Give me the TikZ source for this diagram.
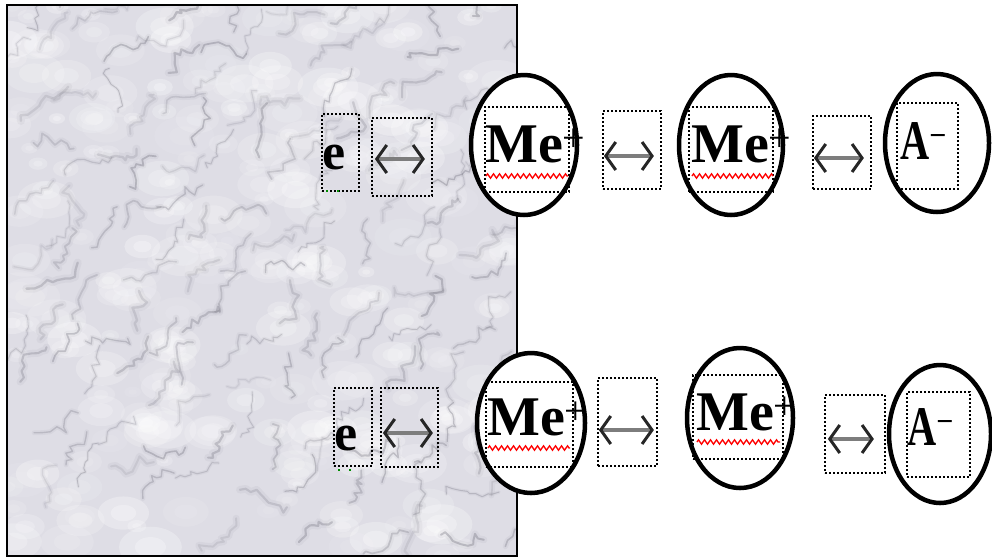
\documentclass[tikz,border=0pt]{standalone}
\usepackage{fontspec}
\usepackage{graphicx}
\setmainfont{Liberation Serif}
\usetikzlibrary{shapes.geometric,arrows.meta,decorations.pathmorphing}
\definecolor{marble}{RGB}{222,221,229}
\definecolor{vein}{RGB}{100,99,112}
\definecolor{shaft}{RGB}{125,125,125}
\newcommand{\plussup}{\raisebox{11pt}{\mdseries\fontsize{40}{40}\selectfont +}}
\newcommand{\minussup}{\raisebox{14pt}{\fontsize{30}{30}\selectfont −}}
\tikzset{
  dotbox/.style={draw=black, line width=2.2pt, dash pattern=on 2pt off 2pt, inner sep=0pt},
  ion/.style={ellipse, draw=black, line width=4.5pt, fill=white, inner sep=0pt},
  big/.style={font=\bfseries\fontsize{56}{56}\selectfont, inner sep=0pt, anchor=base west},
  small/.style={font=\bfseries\fontsize{52}{52}\selectfont, inner sep=0pt, anchor=base west},
  swap/.style={draw=shaft, line width=4pt,
    {Straight Barb[length=10pt,width=28pt,line width=3pt,color=black!85]}-{Straight Barb[length=10pt,width=28pt,line width=3pt,color=black!85]}},
  spell/.style={draw=red, line width=1.3pt, decorate, decoration={zigzag, segment length=6pt, amplitude=2.2pt}},
  grammar/.style={draw=green!55!black, line width=2pt, dash pattern=on 2pt off 9pt}
}
\begin{document}
\begin{tikzpicture}[x=1pt, y=-1pt]
\useasboundingbox (0,0) rectangle (992,558);
% marble slab
\begin{scope}
  \clip (7,5) rectangle (517,556);
  \fill[marble] (7,5) rectangle (517,556);
  \pgfmathsetseed{11}
  \foreach \i in {1,...,260}{
    \pgfmathsetmacro{\px}{7+510*rnd}
    \pgfmathsetmacro{\py}{5+551*rnd}
    \pgfmathsetmacro{\rr}{8+24*rnd}
    \pgfmathsetmacro{\op}{0.08+0.2*rnd}
    \fill[white, opacity=\op] (\px,\py) ellipse [x radius=\rr pt, y radius=0.65*\rr pt];
    \fill[white, opacity=\op] (\px,\py) ellipse [x radius=0.5*\rr pt, y radius=0.32*\rr pt];
  }
  \foreach \i in {1,...,150}{
    \pgfmathsetseed{\i*37+5}
    \pgfmathsetmacro{\px}{7+510*rnd}
    \pgfmathsetmacro{\py}{5+551*rnd}
    \pgfmathsetmacro{\base}{-45+35*rand}
    \pgfmathsetmacro{\op}{0.10+0.22*rnd}
    \pgfmathsetmacro{\lw}{0.8+1.6*rnd}
    \pgfmathsetseed{\i*53+1}
    \draw[vein, opacity=0.06, line width=3.5*\lw pt, line cap=round, line join=round]
      (\px,\py) \foreach \j in {1,...,10}{ -- ++({\base+75*rand}:{3+6*rnd}) };
    \pgfmathsetseed{\i*53+1}
    \draw[vein, opacity=\op, line width=\lw pt, line cap=round, line join=round]
      (\px,\py) \foreach \j in {1,...,10}{ -- ++({\base+75*rand}:{3+6*rnd}) };
  }
\end{scope}
\draw[black, line width=2pt] (7,5) rectangle (517,556);

% ---------- top row ----------
\node[dotbox, minimum width=37pt, minimum height=77pt] (e1box) at (340.5,152.5) {};
\node[small] (e1) at (322,169) {e};
\draw[grammar] (e1.base west) ++(4,22) -- ++(14,0);
\node[dotbox, minimum width=60pt, minimum height=78pt] (a1box) at (402,157) {};
\draw[swap] (a1box.west) ++(4,2) -- ++(50,0);

\node[ion, minimum width=106pt, minimum height=140pt] (ion1) at (524,145) {};
\node[dotbox, minimum width=84pt, minimum height=85pt] (in1box) at (527,149.5) {};
\node[big] (me1) at (485,162) {Me\plussup};
\draw[spell] (me1.base west) ++(1,14) -- ++(82,0);

\node[dotbox, minimum width=58pt, minimum height=78pt] (a2box) at (632,150) {};
\draw[swap] (a2box.west) ++(2,6) -- ++(50,0);

\node[ion, minimum width=104pt, minimum height=140pt] (ion2) at (731,145) {};
\node[dotbox, minimum width=84pt, minimum height=85pt] (in2box) at (731,149.5) {};
\node[big] (me2) at (691,162) {Me\plussup};
\draw[spell] (me2.base west) ++(1,14) -- ++(81,0);

\node[dotbox, minimum width=58pt, minimum height=73pt] (a3box) at (842,152.5) {};
\draw[swap] (a3box.west) ++(2,5.5) -- ++(50,0);

\node[ion, minimum width=104pt, minimum height=138pt] (ion3) at (937,143) {};
\node[dotbox, minimum width=61pt, minimum height=86pt] (in3box) at (927.5,146) {};
\node[big] (an1) at (900,159) {\scalebox{0.72}[1]{A}\minussup};

% ---------- bottom row ----------
\node[dotbox, minimum width=38pt, minimum height=78pt] (e2box) at (353,427) {};
\node[small] (e2) at (334,450) {e};
\draw[grammar] (e2.base west) ++(4,20) -- ++(14,0);
\node[dotbox, minimum width=57pt, minimum height=79pt] (a4box) at (409.5,427.5) {};
\draw[swap] (a4box.west) ++(3,5.5) -- ++(50,0);

\node[ion, minimum width=108pt, minimum height=140pt] (ion4) at (531,423) {};
\node[dotbox, minimum width=87pt, minimum height=85pt] (in4box) at (529.5,424.5) {};
\node[big] (me4) at (487,435) {Me\plussup};
\draw[spell] (me4.base west) ++(1,13) -- ++(82,0);

\node[dotbox, minimum width=59pt, minimum height=88pt] (a5box) at (627.5,422) {};
\draw[swap] (a5box.west) ++(2,8) -- ++(55,0);

\node[ion, minimum width=106pt, minimum height=140pt] (ion5) at (740,418) {};
\node[dotbox, minimum width=90pt, minimum height=84pt] (in5box) at (738,417) {};
\node[big] (me5) at (696,430) {Me\plussup};
\draw[spell] (me5.base west) ++(1,12) -- ++(83,0);

\node[dotbox, minimum width=60pt, minimum height=78pt] (a6box) at (855,434) {};
\draw[swap] (a6box.west) ++(4,5) -- ++(46,0);

\node[ion, minimum width=102pt, minimum height=138pt] (ion6) at (940,434) {};
\node[dotbox, minimum width=63pt, minimum height=85pt] (in6box) at (938.5,434.5) {};
\node[big] (an2) at (907,445) {\scalebox{0.72}[1]{A}\minussup};
\end{tikzpicture}
\end{document}
